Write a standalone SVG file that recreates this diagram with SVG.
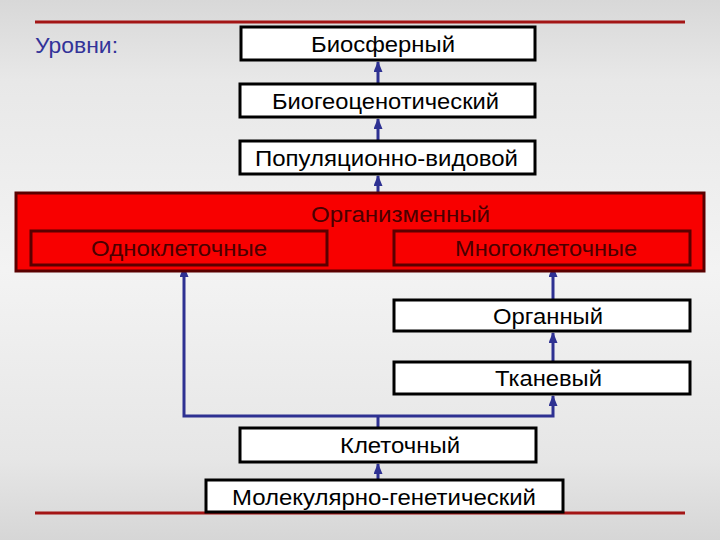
<svg xmlns="http://www.w3.org/2000/svg" width="720" height="540" viewBox="0 0 720 540">
<defs>
<linearGradient id="bg" x1="0" y1="0" x2="0" y2="1">
<stop offset="0" stop-color="#d8d8d8"/>
<stop offset="0.15" stop-color="#e8e8e8"/>
<stop offset="0.5" stop-color="#f3f3f3"/>
<stop offset="0.85" stop-color="#e6e6e6"/>
<stop offset="1" stop-color="#d6d6d6"/>
</linearGradient>
<marker id="ah" viewBox="0 0 11 9" refX="10" refY="4.5" markerWidth="11" markerHeight="9" markerUnits="userSpaceOnUse" orient="auto-start-reverse">
<path d="M0,0 L11,4.5 L0,9 Z" fill="#2e3192"/>
</marker>
<style>
.box{fill:#ffffff;stroke:#000000;stroke-width:3}
.rbox{fill:#f80000;stroke:#5a0000;stroke-width:3}
.t{font-family:"Liberation Sans",Arial,sans-serif;font-size:22px;fill:#000000;text-anchor:middle}
.rt{font-family:"Liberation Sans",Arial,sans-serif;font-size:22px;fill:#4a0000;text-anchor:middle}
.c{fill:none;stroke:#2e3192;stroke-width:3}
.rule{stroke:#a31515;stroke-width:3}
</style>
</defs>
<rect x="0" y="0" width="720" height="540" fill="url(#bg)"/>
<line class="rule" x1="35" y1="22" x2="685" y2="22"/>
<line class="rule" x1="35" y1="513" x2="685" y2="513"/>
<text x="35" y="53" font-family="Liberation Sans, Arial, sans-serif" font-size="22" fill="#333399" textLength="83" lengthAdjust="spacingAndGlyphs">Уровни:</text>

<g id="connectors">
<line class="c" x1="378" y1="84" x2="378" y2="62" marker-end="url(#ah)"/>
<line class="c" x1="378" y1="141" x2="378" y2="119" marker-end="url(#ah)"/>
<line class="c" x1="378" y1="193" x2="378" y2="176" marker-end="url(#ah)"/>
<polyline class="c" points="378,428 378,416"/>
<polyline class="c" points="184,267 184,416 553,416 553,396" marker-start="url(#ah)" marker-end="url(#ah)"/>
<line class="c" x1="553" y1="362" x2="553" y2="333" marker-end="url(#ah)"/>
<line class="c" x1="553" y1="300" x2="553" y2="267" marker-end="url(#ah)"/>
<line class="c" x1="378" y1="480" x2="378" y2="464" marker-end="url(#ah)"/>
</g>

<g id="n-biosfer"><rect class="box" x="241" y="27" width="294" height="33"/><text class="t" x="383" y="52" textLength="144" lengthAdjust="spacingAndGlyphs">Биосферный</text></g>
<g id="n-biogeo"><rect class="box" x="240" y="84" width="295" height="33"/><text class="t" x="385.5" y="109" textLength="227" lengthAdjust="spacingAndGlyphs">Биогеоценотический</text></g>
<g id="n-popul"><rect class="box" x="240" y="141" width="295" height="33"/><text class="t" x="386.5" y="166" textLength="263" lengthAdjust="spacingAndGlyphs">Популяционно-видовой</text></g>
<g id="n-organism"><rect class="rbox" x="16" y="193" width="688" height="78"/><text class="rt" x="400.5" y="222" textLength="179" lengthAdjust="spacingAndGlyphs">Организменный</text></g>
<g id="n-odno"><rect class="rbox" x="31" y="231" width="296" height="34"/><text class="rt" x="179" y="256" textLength="176" lengthAdjust="spacingAndGlyphs">Одноклеточные</text></g>
<g id="n-mnogo"><rect class="rbox" x="394" y="231" width="296" height="34"/><text class="rt" x="546" y="256" textLength="182" lengthAdjust="spacingAndGlyphs">Многоклеточные</text></g>
<g id="n-organ"><rect class="box" x="394" y="300" width="296" height="31"/><text class="t" x="548" y="324" textLength="110" lengthAdjust="spacingAndGlyphs">Органный</text></g>
<g id="n-tkan"><rect class="box" x="394" y="362" width="296" height="32"/><text class="t" x="548.5" y="386" textLength="107" lengthAdjust="spacingAndGlyphs">Тканевый</text></g>
<g id="n-kletka"><rect class="box" x="240" y="428" width="296" height="34"/><text class="t" x="400" y="453" textLength="120" lengthAdjust="spacingAndGlyphs">Клеточный</text></g>
<g id="n-molek"><rect class="box" x="206" y="480" width="357" height="32"/><text class="t" x="384" y="505" textLength="304" lengthAdjust="spacingAndGlyphs">Молекулярно-генетический</text></g>
</svg>
